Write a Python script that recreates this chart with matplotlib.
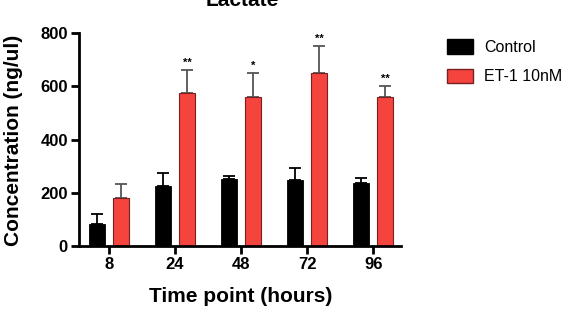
import matplotlib
matplotlib.use("Agg")
import matplotlib.pyplot as plt
import numpy as np
from matplotlib.patches import Patch

plt.rcParams['font.family'] = ['Liberation Sans', 'DejaVu Sans']

# data
timepoints = ['8', '24', '48', '72', '96']
control = [83, 225, 250, 248, 235]
control_err = [38, 48, 14, 44, 19]
et1 = [180, 575, 561, 651, 561]
et1_err = [53, 86, 89, 101, 40]
stars = ['', '**', '*', '**', '**']

fig = plt.figure(figsize=(5.69, 3.12), dpi=100)
ax = fig.add_axes([79/569, 66/312, 322/569, 213/312])

x = np.arange(len(timepoints))
off = 0.18
w = 0.24
red = '#F5433E'

ax.bar(x - off, control, width=w, color='black', edgecolor='black', lw=0.6, zorder=2)
ax.errorbar(x - off, control, yerr=[np.zeros(len(x)), control_err], fmt='none',
            ecolor='black', elinewidth=1.3, capsize=4, capthick=1.3, zorder=1)
ax.bar(x + off, et1, width=w, color=red, edgecolor='#7a2020', lw=0.8, zorder=2)
ax.errorbar(x + off, et1, yerr=[np.zeros(len(x)), et1_err], fmt='none',
            ecolor='#555555', elinewidth=1.3, capsize=4, capthick=1.3, zorder=1)

for i, s in enumerate(stars):
    if s:
        ax.text(x[i] + off, et1[i] + et1_err[i] + 8, s, ha='center', va='bottom',
                fontsize=8, fontweight='bold')

ax.set_xlim(-0.455, 4.42)
ax.set_ylim(0, 800)
ax.set_yticks([0, 200, 400, 600, 800])
ax.set_xticks(x)
ax.set_xticklabels(timepoints)
for sp in ['top', 'right']:
    ax.spines[sp].set_visible(False)
for sp in ['left', 'bottom']:
    ax.spines[sp].set_linewidth(2)
ax.tick_params(axis='both', width=2, length=6, labelsize=12, pad=2)
for lab in ax.get_xticklabels() + ax.get_yticklabels():
    lab.set_fontweight('bold')

ax.set_xlabel('Time point (hours)', fontsize=15, fontweight='bold')
ax.set_ylabel('Concentration (ng/ul)', fontsize=15, fontweight='bold')
ax.xaxis.set_label_coords((241 - 79) / 322, -(296 - 246) / 213)
ax.yaxis.set_label_coords(-(79 - 14) / 322, (246 - 140) / 213)
ax.xaxis.label.set_va('center')
ax.yaxis.label.set_va('center')

fig.text(242/569, 1 - 6/312, 'Lactate', ha='center', va='baseline',
         fontsize=15, fontweight='bold')

handles = [Patch(facecolor='black', edgecolor='black'),
           Patch(facecolor=red, edgecolor='#7a2020')]
fig.legend(handles, ['Control', 'ET-1 10nM'], loc='upper left',
           bbox_to_anchor=(441/569, 1 - 33/312), frameon=False, fontsize=11.5,
           handlelength=1.6, handleheight=1.0, labelspacing=0.85, handletextpad=0.7,
           borderaxespad=0, borderpad=0.4)

fig.savefig('out.png', dpi=100)
